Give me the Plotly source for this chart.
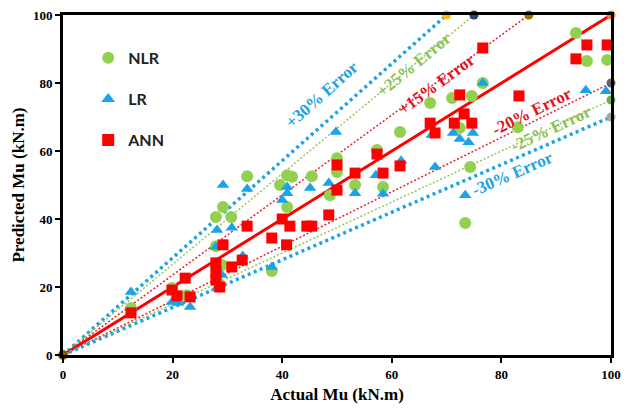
import plotly.graph_objects as go

# ---------------- data ----------------
nlr_x = [12.4, 19.9, 22.6, 27.9, 29.2, 30.7, 27.9, 29.0, 28.1, 33.6, 38.1, 39.6, 40.9, 41.8, 40.9,
         45.4, 48.7, 50.0, 50.0, 53.3, 57.3, 58.4, 61.5, 67.0, 71.0, 74.6, 72.4, 74.3, 73.4, 76.6,
         83.0, 93.6, 95.6, 99.3]
nlr_y = [13.8, 19.7, 17.6, 40.6, 43.5, 40.6, 32.0, 26.5, 22.0, 52.6, 24.7, 50.0, 52.9, 52.4, 43.5,
         52.6, 47.0, 57.9, 53.8, 50.0, 60.3, 49.4, 65.6, 74.1, 75.6, 76.2, 66.8, 55.3, 38.8, 80.0,
         67.0, 94.7, 86.5, 86.8]

lr_x = [12.4, 19.9, 21.0, 23.2, 27.9, 28.1, 29.2, 30.8, 29.0, 28.1, 32.8, 33.6, 38.1, 40.0, 40.9,
        40.9, 45.1, 48.5, 53.3, 49.8, 57.1, 58.4, 61.7, 67.9, 67.3, 71.2, 72.4, 74.0, 74.8, 73.4,
        76.6, 95.4, 99.1]
lr_y = [18.5, 15.6, 15.3, 14.1, 31.8, 36.8, 50.0, 37.4, 23.5, 19.7, 29.1, 48.8, 25.9, 45.6, 47.6,
        49.4, 49.1, 50.6, 47.6, 65.6, 52.9, 47.4, 57.1, 55.3, 64.7, 65.3, 63.5, 62.6, 65.3, 47.0,
        80.0, 77.9, 77.6]

ann_x = [12.4, 19.9, 20.8, 22.3, 23.2, 27.9, 27.9, 27.9, 28.6, 29.2, 30.8, 32.7, 33.6, 38.1, 40.0,
         41.4, 40.8, 44.5, 45.4, 48.5, 50.0, 50.0, 53.3, 57.3, 58.4, 61.5, 67.0, 67.9, 71.4, 72.4,
         73.2, 74.6, 76.6, 83.2, 93.6, 95.6, 99.3]
ann_y = [12.4, 19.1, 17.4, 22.6, 17.1, 27.1, 24.4, 22.1, 20.0, 32.4, 25.9, 27.9, 37.9, 34.4, 40.0,
         37.9, 32.4, 37.9, 37.9, 41.2, 48.5, 55.9, 53.5, 59.1, 53.5, 55.6, 68.2, 65.3, 68.2, 76.5,
         70.9, 68.2, 90.3, 76.2, 87.1, 91.2, 91.2]

# error lines: all start at origin, end points
line_names = ["+30%", "+25%", "+15%", "ideal", "-20%", "-25%", "-30%"]
line_end_x = [70, 75, 85, 100, 100, 100, 100]
line_end_y = [100, 100, 100, 100, 80, 75, 70]
line_colors = ["#1BA3E4", "#92C85A", "#E8202A", "#FF0000", "#E8202A", "#92C85A", "#1BA3E4"]
line_widths = [3.5, 1.5, 1.5, 3, 1.5, 1.5, 3.5]
line_dashes = ["3px,3.5px", "2px,2px", "2px,2px", "solid", "2px,2px", "2px,2px", "3px,3.5px"]
end_colors = ["#FFC000", "#264478", "#997300", "#ED7D31", "#636363", "#70AD47", "#A5A5A5"]

label_text = ["+30% Error", "+25% Error", "+15% Error", "-20% Error", "-25% Error", "-30% Error"]
label_x = [47.3, 64.1, 68.1, 85.6, 89.2, 82.1]
label_y = [76.5, 85.3, 79.7, 71.5, 66.5, 53.5]
label_angle = [-41.6, -39.6, -36.1, -26.4, -25.0, -23.5]
label_colors = ["#1BA3E4", "#8CC152", "#E0141E", "#E0141E", "#8CC152", "#1BA3E4"]

x_ticks = [0, 20, 40, 60, 80, 100]
y_ticks = [0, 20, 40, 60, 80, 100]

serif = "Liberation Serif, Times New Roman, serif"

fig = go.Figure()

# error & ideal lines
for i in range(len(line_names)):
    fig.add_trace(go.Scatter(
        x=[0, line_end_x[i]], y=[0, line_end_y[i]], mode="lines",
        line=dict(color=line_colors[i], width=line_widths[i], dash=line_dashes[i]),
        showlegend=False, hoverinfo="skip", cliponaxis=False))

# data series
fig.add_trace(go.Scatter(x=nlr_x, y=nlr_y, mode="markers", name="NLR", legend="legend",
                         marker=dict(symbol="circle", size=12, color="#92D050"), cliponaxis=False))
fig.add_trace(go.Scatter(x=lr_x, y=lr_y, mode="markers", name="LR", legend="legend2",
                         marker=dict(symbol="triangle-up", size=11, color="#1AA3E8"), cliponaxis=False))
fig.add_trace(go.Scatter(x=ann_x, y=ann_y, mode="markers", name="ANN", legend="legend3",
                         marker=dict(symbol="square", size=11, color="#FF0000"), cliponaxis=False))

# line end markers
fig.add_trace(go.Scatter(x=[0], y=[0], mode="markers", showlegend=False, hoverinfo="skip",
                         marker=dict(size=10, color="#7F6000"), cliponaxis=False))
fig.add_trace(go.Scatter(x=line_end_x, y=line_end_y, mode="markers", showlegend=False,
                         hoverinfo="skip", marker=dict(size=9, color=end_colors), cliponaxis=False))

for i in range(len(label_text)):
    fig.add_annotation(x=label_x[i], y=label_y[i], text=label_text[i], textangle=label_angle[i],
                       showarrow=False, font=dict(family=serif, size=17, color=label_colors[i],
                                                  weight="bold"))

leg_font = dict(family="Lato, Open Sans, sans-serif", size=16, color="#222222", weight="bold")
leg_common = dict(xanchor="left", yanchor="middle", bgcolor="rgba(0,0,0,0)", font=leg_font,
                  itemsizing="constant")

fig.update_layout(
    width=633, height=409,
    margin=dict(l=63, r=22, t=15, b=54, autoexpand=False),
    plot_bgcolor="white", paper_bgcolor="white",
    legend=dict(x=0.046, y=0.874, **leg_common),
    legend2=dict(x=0.046, y=0.753, **leg_common),
    legend3=dict(x=0.046, y=0.632, **leg_common),
    xaxis=dict(range=[0, 100], tickvals=x_ticks, showgrid=False, zeroline=False, automargin=False,
               showline=True, linecolor="black", linewidth=3, mirror=True,
               ticks="outside", ticklen=5, tickwidth=1.5, tickcolor="black",
               tickfont=dict(family=serif, size=13, color="black", weight="bold"),
               title=dict(text="Actual Mu (kN.m)", standoff=8,
                          font=dict(family=serif, size=17, color="black", weight="bold"))),
    yaxis=dict(range=[0, 100], tickvals=y_ticks, showgrid=False, zeroline=False, automargin=False,
               showline=True, linecolor="black", linewidth=3, mirror=True,
               ticks="outside", ticklen=5, tickwidth=1.5, tickcolor="black",
               tickfont=dict(family=serif, size=13, color="black", weight="bold"),
               title=dict(text="Predicted Mu (kN.m)", standoff=4,
                          font=dict(family=serif, size=17, color="black", weight="bold"))),
)

fig.write_html("out.html")
